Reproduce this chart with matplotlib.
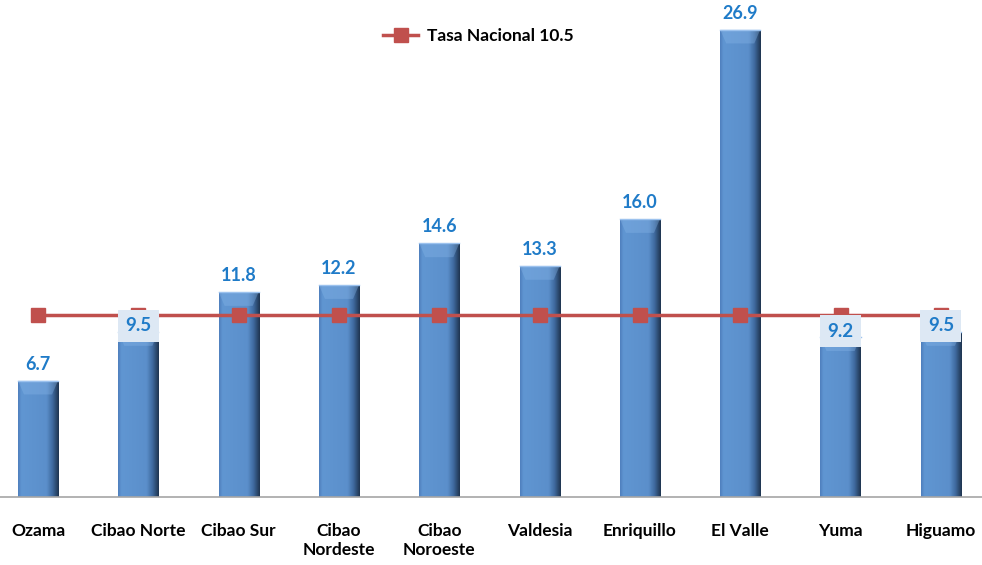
import numpy as np
import matplotlib
matplotlib.use("Agg")
import matplotlib.pyplot as plt
from matplotlib.colors import LinearSegmentedColormap

regiones = ["Ozama", "Cibao Norte", "Cibao Sur", "Cibao\nNordeste", "Cibao\nNoroeste",
            "Valdesia", "Enriquillo", "El Valle", "Yuma", "Higuamo"]
tasas = [6.7, 9.5, 11.8, 12.2, 14.6, 13.3, 16.0, 26.9, 9.2, 9.5]
tasa_nacional = 10.5

plt.rcParams['font.family'] = ['Lato', 'DejaVu Sans']

fig = plt.figure(figsize=(9.82, 5.65), dpi=100)
ax = fig.add_axes([0, 0.1204, 1, 0.8796])

x = np.arange(len(regiones))
w = 0.4

# horizontal gradient to fake the bevelled bars
cmap = LinearSegmentedColormap.from_list("bar", [(0, "#4f7fbd"), (0.08, "#6096d2"),
                                                 (0.7, "#5b8fcb"), (0.85, "#3f6a9f"),
                                                 (1, "#1f3550")])
grad = np.linspace(0, 1, 64).reshape(1, -1)
bars = ax.bar(x, tasas, width=w, color="none", edgecolor="none", zorder=2)
for b in bars:
    x0, y0 = b.get_x(), b.get_y()
    bw, bh = b.get_width(), b.get_height()
    im = ax.imshow(grad, cmap=cmap, aspect="auto", extent=[x0, x0 + bw, y0, y0 + bh],
                   zorder=2, interpolation="bicubic")
    im.set_clip_path(b)
    # top bevel
    ax.fill([x0, x0 + bw, x0 + bw * 0.85, x0 + bw * 0.15],
            [y0 + bh, y0 + bh, y0 + bh - 0.8, y0 + bh - 0.8],
            color="#8ab8ea", alpha=0.35, zorder=3, lw=0)
    ax.plot([x0, x0 + bw], [y0 + bh, y0 + bh], color="#9cc2ee", lw=1, zorder=3)

ax.plot(x, [tasa_nacional] * len(x), color="#c0504d", lw=2.5, marker="s",
        markersize=10, zorder=4, label="Tasa Nacional 10.5")

for xi, v in zip(x, tasas):
    if tasa_nacional - 2 < v < tasa_nacional:
        # labels sitting on the line get a light box
        ax.text(xi, v + 0.35, f"{v:.1f}", ha="center", va="center", fontsize=13.5,
                fontweight="bold", color="#1f7bc8", zorder=5,
                bbox=dict(boxstyle="square,pad=0.4", fc="#dde8f4", ec="none"))
    else:
        ax.text(xi, v + 0.45, f"{v:.1f}", ha="center", va="bottom", fontsize=13,
                fontweight="bold", color="#1f7bc8", zorder=5)

ax.set_xlim(-0.379, 9.41)
ax.set_ylim(0, 28.6)
ax.set_xticks(x)
ax.set_xticklabels(regiones, fontsize=12.5, fontweight="bold", va="top")
ax.tick_params(axis="x", length=0, pad=19)
ax.set_yticks([])
for s in ["top", "right", "left"]:
    ax.spines[s].set_visible(False)
ax.spines["bottom"].set_color("#a6a6a6")
ax.spines["bottom"].set_linewidth(1.2)

leg = ax.legend(loc="upper center", bbox_to_anchor=(0.487, 0.975), frameon=False,
                prop={"weight": "bold", "size": 12.5}, handlelength=2.0,
                handletextpad=0.5)

fig.savefig("out.png", dpi=100)
